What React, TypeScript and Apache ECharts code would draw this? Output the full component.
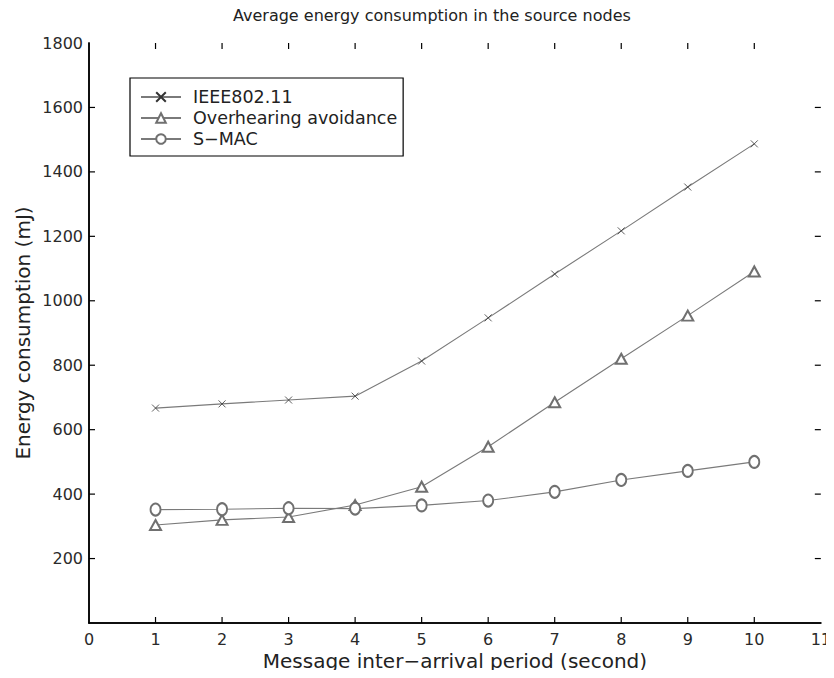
import React, { useEffect, useRef } from "react";
import * as echarts from "echarts";

const xValues = [1, 2, 3, 4, 5, 6, 7, 8, 9, 10];
const ieee = [667, 680, 692, 704, 813, 947, 1083, 1217, 1353, 1487];
const overhearing = [304, 320, 329, 366, 423, 547, 685, 820, 954, 1091];
const smac = [352, 353, 356, 355, 365, 380, 407, 444, 472, 500];
const seriesNames = ["IEEE802.11", "Overhearing avoidance", "S\u2212MAC"];
const xTickValues = [1, 2, 3, 4, 5, 6, 7, 8, 9, 10];
const yTickValues = [200, 400, 600, 800, 1000, 1200, 1400, 1600];

const FONT = "DejaVu Sans";
const LINE = "#7a7a7a";
const MARK = "#707070";
const TICK_LEN = 6;

function pairs(vals: number[]) {
  return vals.map((v, i) => [xValues[i], v]);
}

export default function App() {
  const ref = useRef<HTMLDivElement>(null);
  useEffect(() => {
    if (!ref.current) return;
    const chart = echarts.init(ref.current, null, { renderer: "svg" });
    const axisLine = () => ({ show: true, lineStyle: { color: "#000", width: 1.5 } });
    const labelStyle = { fontFamily: FONT, fontSize: 16, color: "#2a2a2a" };
    const mk = (name: string, data: number[], symbol: string, size: any, color: string) => ({
      name,
      type: "line",
      data: pairs(data),
      symbol,
      symbolSize: size,
      showAllSymbol: true,
      lineStyle: { color: LINE, width: 1.1 },
      itemStyle: { color, borderColor: color, borderWidth: 0.8 },
      silent: true,
    });
    const tickData = [
      ...xTickValues.map((v) => [v, 0, 0]),
      ...yTickValues.map((v) => [0, v, 1]),
    ];
    const tickSeries = {
      type: "custom",
      silent: true,
      z: 10,
      data: tickData,
      clip: false,
      renderItem: (params: any, api: any) => {
        const cs = params.coordSys;
        const kind = api.value(2);
        const style = { stroke: "#000", lineWidth: 1.2 };
        if (kind === 0) {
          const p = api.coord([api.value(0), 0]);
          const x = p[0];
          const yb = cs.y + cs.height;
          const yt = cs.y;
          return {
            type: "group",
            children: [
              { type: "line", shape: { x1: x, y1: yb, x2: x, y2: yb - TICK_LEN }, style },
              { type: "line", shape: { x1: x, y1: yt, x2: x, y2: yt + TICK_LEN }, style },
            ],
          };
        }
        const p = api.coord([0, api.value(1)]);
        const y = p[1];
        const xl = cs.x;
        const xr = cs.x + cs.width;
        return {
          type: "group",
          children: [
            { type: "line", shape: { x1: xl, y1: y, x2: xl + TICK_LEN, y2: y }, style },
            { type: "line", shape: { x1: xr, y1: y, x2: xr - TICK_LEN, y2: y }, style },
          ],
        };
      },
    };
    chart.setOption({
      animation: false,
      backgroundColor: "#fff",
      title: {
        text: "Average energy consumption in the source nodes",
        left: 228,
        top: 2,
        textStyle: { fontFamily: FONT, fontSize: 16, fontWeight: "normal", color: "#222" },
      },
      grid: { left: 89, top: 43, right: 8, bottom: 55, containLabel: false },
      legend: {
        left: 130,
        top: 78,
        orient: "vertical",
        borderColor: "#000",
        borderWidth: 1.2,
        backgroundColor: "#fff",
        padding: [10, 6, 8, 10],
        itemWidth: 40,
        itemHeight: 12,
        itemGap: 3,
        textStyle: { fontFamily: FONT, fontSize: 17.5, color: "#222", padding: [0, 0, 0, 7] },
        data: seriesNames,
      },
      xAxis: [
        {
          type: "value",
          min: 0,
          max: 11,
          interval: 1,
          position: "bottom",
          axisLine: axisLine(),
          axisTick: { show: false },
          splitLine: { show: false },
          axisLabel: { ...labelStyle, margin: 8 },
          name: "Message inter\u2212arrival period (second)",
          nameLocation: "middle",
          nameGap: 28,
          nameMoveOverlap: false,
          nameTextStyle: { fontFamily: FONT, fontSize: 20, color: "#222" },
        },
        {
          type: "value",
          min: 0,
          max: 11,
          interval: 1,
          position: "top",
          axisLine: axisLine(),
          axisTick: { show: false },
          splitLine: { show: false },
          axisLabel: { show: false },
        },
      ],
      yAxis: [
        {
          type: "value",
          min: 0,
          max: 1800,
          interval: 200,
          position: "left",
          axisLine: axisLine(),
          axisTick: { show: false },
          splitLine: { show: false },
          axisLabel: {
            ...labelStyle,
            margin: 6,
            formatter: (v: number) => (v === 0 ? "" : String(v)),
          },
          name: "Energy consumption (mJ)",
          nameLocation: "middle",
          nameGap: 56,
          nameMoveOverlap: false,
          nameTextStyle: { fontFamily: FONT, fontSize: 20, color: "#222" },
        },
        {
          type: "value",
          min: 0,
          max: 1800,
          interval: 200,
          position: "right",
          axisLine: axisLine(),
          axisTick: { show: false },
          splitLine: { show: false },
          axisLabel: { show: false },
        },
      ],
      series: [
        mk(seriesNames[0], ieee, "path://M0,0L10,10M0,10L10,0", [7, 7], "#333"),
        mk(seriesNames[1], overhearing, "emptyTriangle", [11, 10], MARK),
        mk(seriesNames[2], smac, "emptyCircle", [10, 12], MARK),
        tickSeries,
      ],
    });
    return () => chart.dispose();
  }, []);
  return <div ref={ref} style={{ width: 834, height: 678, margin: -8 }} />;
}
